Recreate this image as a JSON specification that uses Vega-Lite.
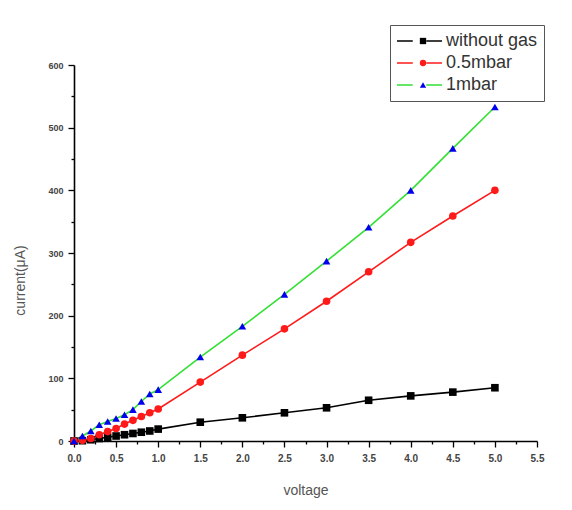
{
  "$schema": "https://vega.github.io/schema/vega-lite/v6.json",
  "width": 463,
  "height": 376,
  "autosize": {"type": "none"},
  "padding": {"left": 74, "top": 65, "right": 35, "bottom": 69},
  "background": "white",
  "config": {
    "view": {"stroke": null},
    "font": "Liberation Sans",
    "axis": {"grid": false, "domainColor": "#000", "domainWidth": 1.6, "tickColor": "#000", "tickWidth": 1.3}
  },
  "data": {"values": [
    {"v": 0.0, "c": 0, "s": "without gas"},
    {"v": 0.1, "c": 0.5, "s": "without gas"},
    {"v": 0.2, "c": 2, "s": "without gas"},
    {"v": 0.3, "c": 4, "s": "without gas"},
    {"v": 0.4, "c": 6, "s": "without gas"},
    {"v": 0.5, "c": 8, "s": "without gas"},
    {"v": 0.6, "c": 10, "s": "without gas"},
    {"v": 0.7, "c": 12, "s": "without gas"},
    {"v": 0.8, "c": 14, "s": "without gas"},
    {"v": 0.9, "c": 16, "s": "without gas"},
    {"v": 1.0, "c": 19, "s": "without gas"},
    {"v": 1.5, "c": 30, "s": "without gas"},
    {"v": 2.0, "c": 37, "s": "without gas"},
    {"v": 2.5, "c": 45, "s": "without gas"},
    {"v": 3.0, "c": 53, "s": "without gas"},
    {"v": 3.5, "c": 65, "s": "without gas"},
    {"v": 4.0, "c": 72, "s": "without gas"},
    {"v": 4.5, "c": 78, "s": "without gas"},
    {"v": 5.0, "c": 85, "s": "without gas"},
    {"v": 0.0, "c": 0, "s": "0.5mbar"},
    {"v": 0.1, "c": 1, "s": "0.5mbar"},
    {"v": 0.2, "c": 4, "s": "0.5mbar"},
    {"v": 0.3, "c": 10, "s": "0.5mbar"},
    {"v": 0.4, "c": 15, "s": "0.5mbar"},
    {"v": 0.5, "c": 20, "s": "0.5mbar"},
    {"v": 0.6, "c": 27, "s": "0.5mbar"},
    {"v": 0.7, "c": 33, "s": "0.5mbar"},
    {"v": 0.8, "c": 39, "s": "0.5mbar"},
    {"v": 0.9, "c": 45, "s": "0.5mbar"},
    {"v": 1.0, "c": 51, "s": "0.5mbar"},
    {"v": 1.5, "c": 94, "s": "0.5mbar"},
    {"v": 2.0, "c": 137, "s": "0.5mbar"},
    {"v": 2.5, "c": 179, "s": "0.5mbar"},
    {"v": 3.0, "c": 223, "s": "0.5mbar"},
    {"v": 3.5, "c": 270, "s": "0.5mbar"},
    {"v": 4.0, "c": 317, "s": "0.5mbar"},
    {"v": 4.5, "c": 359, "s": "0.5mbar"},
    {"v": 5.0, "c": 400, "s": "0.5mbar"},
    {"v": 0.0, "c": 0, "s": "1mbar"},
    {"v": 0.1, "c": 8, "s": "1mbar"},
    {"v": 0.2, "c": 16, "s": "1mbar"},
    {"v": 0.3, "c": 26, "s": "1mbar"},
    {"v": 0.4, "c": 31, "s": "1mbar"},
    {"v": 0.5, "c": 36, "s": "1mbar"},
    {"v": 0.6, "c": 42, "s": "1mbar"},
    {"v": 0.7, "c": 50, "s": "1mbar"},
    {"v": 0.8, "c": 63, "s": "1mbar"},
    {"v": 0.9, "c": 75, "s": "1mbar"},
    {"v": 1.0, "c": 82, "s": "1mbar"},
    {"v": 1.5, "c": 134, "s": "1mbar"},
    {"v": 2.0, "c": 183, "s": "1mbar"},
    {"v": 2.5, "c": 234, "s": "1mbar"},
    {"v": 3.0, "c": 287, "s": "1mbar"},
    {"v": 3.5, "c": 341, "s": "1mbar"},
    {"v": 4.0, "c": 400, "s": "1mbar"},
    {"v": 4.5, "c": 467, "s": "1mbar"},
    {"v": 5.0, "c": 533, "s": "1mbar"}
  ]},
  "encoding": {
    "x": {
      "field": "v", "type": "quantitative",
      "scale": {"domain": [0, 5.5], "nice": false, "zero": false},
      "axis": {
        "title": "voltage",
        "titleFont": "Liberation Sans", "titleFontSize": 14, "titleFontWeight": "normal", "titleColor": "#555",
        "titlePadding": 20,
        "values": [0, 0.25, 0.5, 0.75, 1, 1.25, 1.5, 1.75, 2, 2.25, 2.5, 2.75, 3, 3.25, 3.5, 3.75, 4, 4.25, 4.5, 4.75, 5, 5.25, 5.5],
        "labelExpr": "abs(datum.value*2 - round(datum.value*2)) < 0.01 ? format(datum.value, '.1f') : ''",
        "tickSize": {"condition": {"test": "abs(datum.value*2 - round(datum.value*2)) < 0.01", "value": 6}, "value": 3},
        "labelFontSize": 10, "labelFontWeight": "bold", "labelColor": "#444", "labelPadding": 6, "labelFlush": false
      }
    },
    "y": {
      "field": "c", "type": "quantitative",
      "scale": {"domain": [0, 600], "nice": false},
      "axis": {
        "title": "current(μA)",
        "titleFont": "Liberation Sans", "titleFontSize": 14, "titleFontWeight": "normal", "titleColor": "#555",
        "titlePadding": 20, "titleY": 215,
        "values": [0, 50, 100, 150, 200, 250, 300, 350, 400, 450, 500, 550, 600],
        "labelExpr": "datum.value % 100 == 0 ? datum.label : ''",
        "tickSize": {"condition": {"test": "datum.value % 100 == 0", "value": 6}, "value": 3},
        "labelFontSize": 9, "labelFontWeight": "bold", "labelColor": "#444", "labelPadding": 5
      }
    }
  },
  "layer": [
    {
      "mark": {"type": "line", "strokeWidth": 1.6},
      "encoding": {
        "stroke": {
          "field": "s", "type": "nominal",
          "sort": ["without gas", "0.5mbar", "1mbar"],
          "scale": {"range": ["#000000", "#ff1a1a", "#33e033"]},
          "legend": {
            "title": null, "orient": "none", "legendX": 316, "legendY": -40,
            "symbolType": "M-1,0H-0.3M0.3,0H1", "symbolSize": 2025, "symbolStrokeWidth": 1.6,
            "clipHeight": 20, "rowPadding": 2, "padding": 6,
            "labelFont": "Liberation Sans", "labelFontSize": 18, "labelColor": "#333", "labelOffset": 3,
            "strokeColor": "#555", "fillColor": "white"
          }
        }
      }
    },
    {
      "mark": {"type": "point", "filled": true, "opacity": 1, "size": 58},
      "encoding": {
        "fill": {
          "field": "s", "type": "nominal",
          "scale": {"domain": ["without gas", "0.5mbar", "1mbar"], "range": ["#000000", "#ff1a1a", "#0000ee"]},
          "legend": {
            "title": null, "orient": "none", "legendX": 334, "legendY": -40,
            "symbolSize": 40, "symbolStrokeWidth": 0,
            "clipHeight": 20, "rowPadding": 2, "padding": 6,
            "labelExpr": "''", "labelFontSize": 18
          }
        },
        "shape": {
          "field": "s", "type": "nominal",
          "scale": {"domain": ["without gas", "0.5mbar", "1mbar"], "range": ["square", "circle", "triangle-up"]}
        },
        "stroke": {"value": null}
      }
    }
  ]
}
